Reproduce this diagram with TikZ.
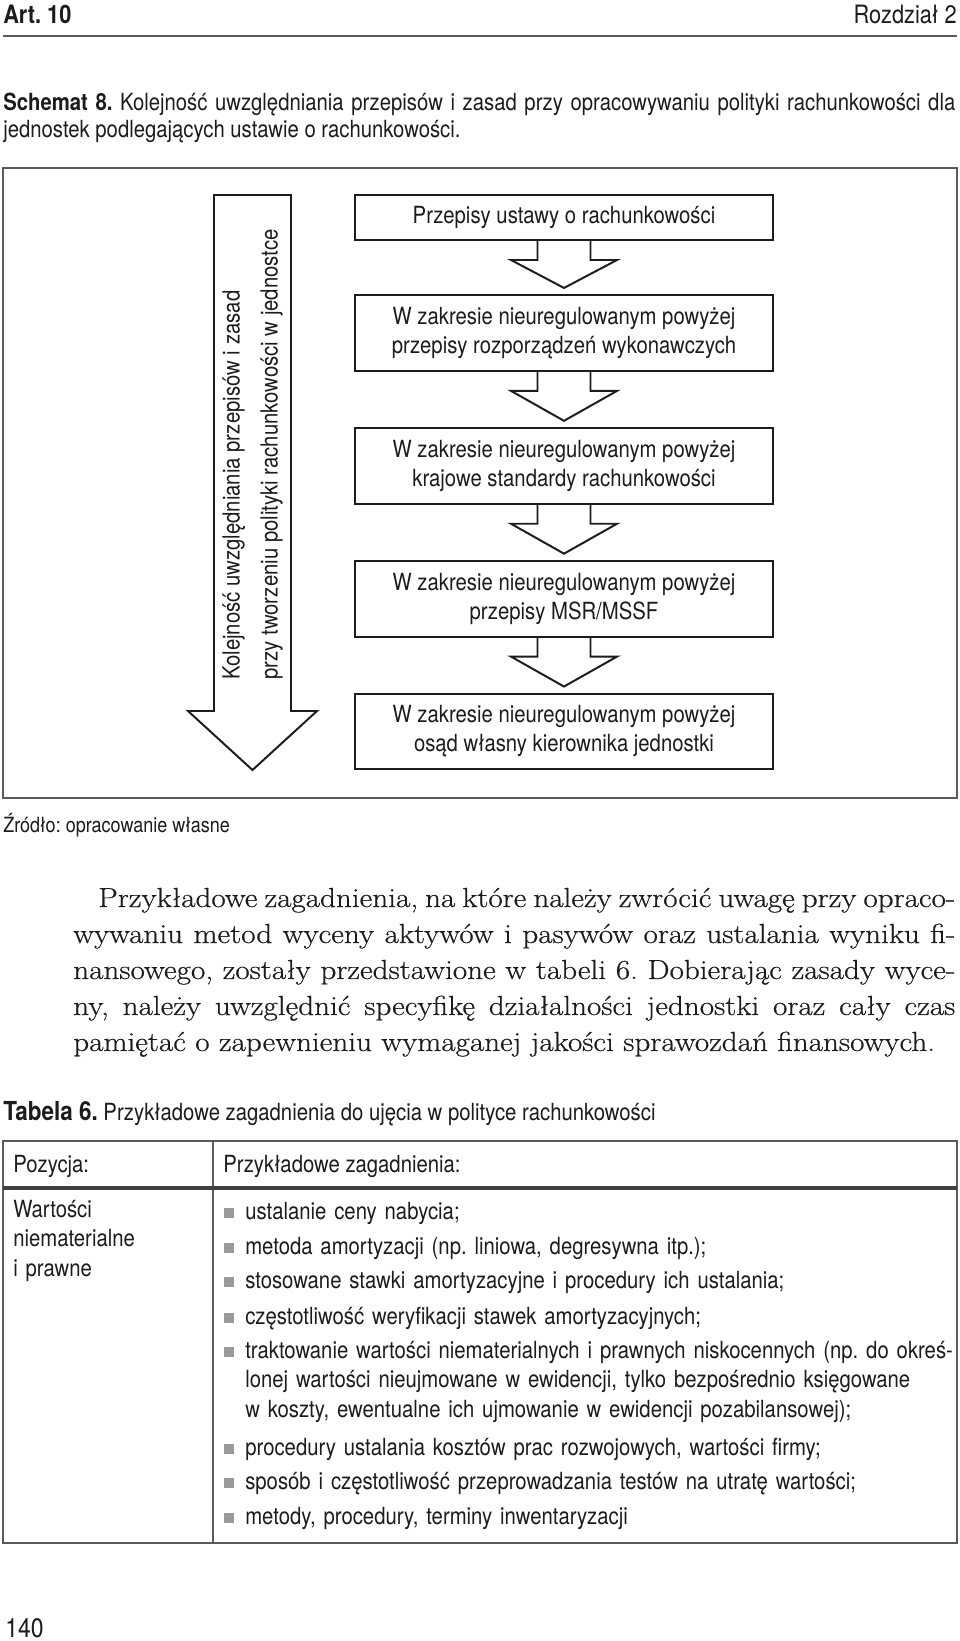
\documentclass[tikz,border=0pt]{standalone}
\usepackage{fontspec}
\setmainfont{TeX Gyre Heros}[FakeStretch=0.86]
\newfontfamily\bookserif{Latin Modern Roman}[FakeStretch=1.13,FakeBold=0.5]
\usetikzlibrary{positioning,calc}
\frenchspacing

\definecolor{rulegray}{HTML}{5A5A5A}
\definecolor{inkblack}{HTML}{1C1C1C}
\definecolor{bulletgray}{HTML}{9A9A9A}

\tikzset{
  stagebox/.style={draw=inkblack, line width=1.4pt, minimum width=297.3pt,
    minimum height=54pt, inner sep=0pt, outer sep=0pt, align=center,
    text=inkblack, font=\fontsize{16.8}{20.6}\selectfont},
  stagearrow/.style={draw=inkblack, line width=1.4pt, line join=miter},
  plain/.style={inner sep=0pt, anchor=base west, text=inkblack},
  tabrule/.style={draw=rulegray, line width=1.3pt},
}

\begin{document}
\begin{tikzpicture}[x=0.7113pt,y=-0.7113pt]
  \useasboundingbox (0,0) rectangle (960,1641);
  \fill[white] (0,0) rectangle (960,1641);

  % page head
  \node[plain, font=\fontsize{18}{22}\selectfont\bfseries] (art) at (3,23) {Art. 10};
  \node[plain, anchor=base east, font=\fontsize{18}{22}\selectfont] (chapter) at (957,23) {Rozdział 2};
  \draw[rulegray, line width=1.3pt] (3,36) -- (957,36);

  \begin{scope}[font=\fontsize{16.8}{19.2}\selectfont]
    \node[plain] (capone) at (3,110) {\makebox[677.2pt][s]{\textbf{Schemat 8.} Kolejność uwzględniania przepisów i zasad przy opracowywaniu polityki rachunkowości dla}};
    \node[plain] (captwo) at (3,137) {jednostek podlegających ustawie o rachunkowości.};
  \end{scope}

  % scheme
  \draw[rulegray, line width=1.1pt] (3,168) rectangle (957,798);

  \draw[stagearrow] (214,195) -- (291,195) -- (291,711) -- (317,711) -- (252.5,770)
    -- (188,711) -- (214,711) -- cycle;
  \node[rotate=90, anchor=west, align=left, inner sep=0pt, text=inkblack,
    font=\fontsize{16.8}{27}\selectfont] (order) at (252.5,680)
    {Kolejność uwzględniania przepisów i zasad\\przy tworzeniu polityki rachunkowości w jednostce};

  \node[stagebox, minimum height=32pt] (law) at (564,217.5) {Przepisy ustawy o rachunkowości};
  \node[stagebox, below=39.1pt of law] (decrees) {W zakresie nieuregulowanym powyżej\\przepisy rozporządzeń wykonawczych};
  \node[stagebox, below=40.5pt of decrees] (national) {W zakresie nieuregulowanym powyżej\\krajowe standardy rachunkowości};
  \node[stagebox, below=40.5pt of national] (ifrs) {W zakresie nieuregulowanym powyżej\\przepisy MSR/MSSF};
  \node[stagebox, below=40.5pt of ifrs] (judgement) {W zakresie nieuregulowanym powyżej\\osąd własny kierownika jednostki};

  \foreach \from/\to in {law/decrees, decrees/national, national/ifrs, ifrs/judgement}
    \draw[stagearrow] ($(\from.south)+(-26.5,0)$) -- ++(0,20) -- ++(-26.5,0)
      -- ($(\to.north)+(0,-7)$) -- ($(\from.south)+(53,20)$) -- ++(-26.5,0) -- ++(0,-20);

  \node[plain, font=\fontsize{14.9}{17}\selectfont] (source) at (3,832) {Źródło: opracowanie własne};

  % body text
  \node[plain, text width=627.4pt, align=justify,
    font=\bookserif\fontsize{19.6}{25.6}\selectfont] (para) at (73,907)
    {\hyphenpenalty=10000\tolerance=10000\hspace*{17.8pt}Przykładowe zagadnienia, na które należy zwrócić uwagę przy opraco-\linebreak
     wywaniu metod wyceny aktywów i pasywów oraz ustalania wyniku fi-\linebreak
     nansowego, zostały przedstawione w tabeli 6. Dobierając zasady wyce-\linebreak
     ny, należy uwzględnić specyfikę działalności jednostki oraz cały czas\linebreak
     pamiętać o zapewnieniu wymaganej jakości sprawozdań finansowych.};

  % table
  \begin{scope}[font=\fontsize{16.8}{21.3}\selectfont]
    \node[plain] (tabcap) at (3,1120) {{\fontsize{18.6}{21}\selectfont\bfseries Tabela 6.} Przykładowe zagadnienia do ujęcia w polityce rachunkowości};

    \draw[tabrule] (3,1141) rectangle (957,1543);
    \draw[tabrule] (213,1141) -- (213,1543);
    \draw[rulegray!70!black, line width=2.8pt] (3,1188) -- (957,1188);

    \node[plain] (poshead) at (13,1172) {Pozycja:};
    \node[plain] (issuehead) at (223,1172) {Przykładowe zagadnienia:};
    \node[plain, text width=135pt, align=left] (position) at (13,1217) {Wartości\\niematerialne\\i prawne};

    \foreach \yb/\entry in {1219/{ustalanie ceny nabycia;},
        1254/{metoda amortyzacji (np. liniowa, degresywna itp.);},
        1288/{stosowane stawki amortyzacyjne i procedury ich ustalania;},
        1324/{częstotliwość weryfikacji stawek amortyzacyjnych;},
        1358/{traktowanie wartości niematerialnych i prawnych niskocennych (np. do okreś-\\lonej wartości nieujmowane w ewidencji, tylko bezpośrednio księgowane\\w koszty, ewentualne ich ujmowanie w ewidencji pozabilansowej);},
        1455/{procedury ustalania kosztów prac rozwojowych, wartości firmy;},
        1489/{sposób i częstotliwość przeprowadzania testów na utratę wartości;},
        1524/{metody, procedury, terminy inwentaryzacji}} {
      \fill[bulletgray] (224,\yb-11) rectangle (234,\yb-1);
      \node[plain, text width=520pt, align=left] (issue-\yb) at (245,\yb) {\entry};
    }
  \end{scope}

  \node[plain, font=\fontsize{19}{22}\selectfont] (pageno) at (5,1637) {140};
\end{tikzpicture}
\end{document}
